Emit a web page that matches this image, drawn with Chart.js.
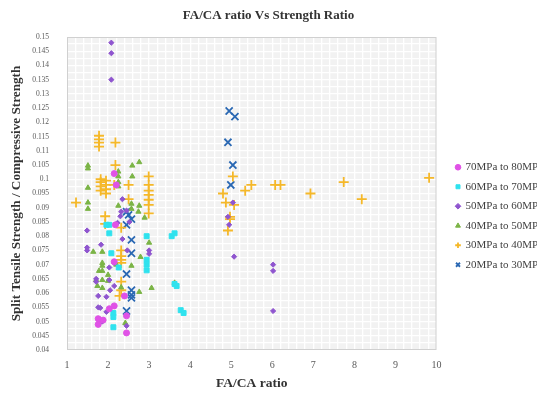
<!DOCTYPE html>
<html lang="en">
<head>
    <meta charset="UTF-8">
    <title>FA/CA ratio Vs Strength Ratio</title>
    <script src="https://cdn.jsdelivr.net/npm/chart.js"></script>
    <style>
        * { margin: 0; padding: 0; box-sizing: border-box; }
        body { background: #ffffff; width: 550px; height: 396px; overflow: hidden; }
        .chart-box { position: relative; width: 550px; height: 396px; }
    </style>
</head>
<body>
    <div class="chart-box">
        <canvas id="ratioChart"></canvas>
    </div>

    <script>
        // series labels
        const seriesNames = ['70MPa to 80MPa', '60MPa to 70MPa', '50MPa to 60MPa', '40MPa to 50MPa', '30MPa to 40MPa', '20MPa to 30MPa'];

        // 70 - 80 MPa
        const x70 = [1.76, 1.76, 1.88, 2.03, 2.15, 2.45, 2.45, 2.15, 2.18, 2.15, 2.2, 2.4];
        const y70 = [0.051, 0.049, 0.0505, 0.0545, 0.0555, 0.052, 0.046, 0.071, 0.084, 0.102, 0.098, 0.059];

        // 60 - 70 MPa
        const x60 = [2.03, 1.96, 2.03, 2.94, 3.55, 3.62, 2.08, 2.94, 2.94, 2.94, 2.26, 3.62, 3.67, 3.77, 3.84, 2.13, 2.13, 2.13];
        const y60 = [0.084, 0.084, 0.081, 0.080, 0.080, 0.081, 0.074, 0.0717, 0.070, 0.068, 0.069, 0.0632, 0.0625, 0.054, 0.053, 0.053, 0.0516, 0.048];

        // 50 - 60 MPa
        const x50 = [2.08, 2.08, 2.08, 5.04, 4.92, 4.95, 5.07, 6.02, 6.02, 6.02, 2.35, 2.32, 2.23, 2.52, 1.49, 2.35, 1.83, 1.49, 1.49, 2.47,
                     3.0, 3.0, 2.03, 2.15, 1.71, 1.71, 2.03, 2.15, 2.05, 1.76, 1.96, 1.76, 1.81, 1.96, 1.86, 2.45, 2.3, 2.45];
        const y50 = [0.148, 0.1443, 0.135, 0.0918, 0.0868, 0.084, 0.0728, 0.070, 0.0678, 0.0537, 0.093, 0.0886, 0.0847, 0.085, 0.082, 0.079, 0.077, 0.076, 0.075, 0.075,
                     0.075, 0.0738, 0.069, 0.0706, 0.065, 0.064, 0.0646, 0.0625, 0.061, 0.059, 0.0587, 0.055, 0.0548, 0.0534, 0.050, 0.0485, 0.087, 0.089];

        // 40 - 50 MPa
        const x40 = [1.51, 1.51, 2.59, 2.76, 2.25, 2.25, 2.25, 2.59, 1.51, 2.25, 1.51, 1.51, 2.57, 2.76, 2.25, 2.57, 2.74, 2.89, 3.0, 2.79,
                     1.64, 1.86, 1.86, 1.86, 2.57, 1.78, 1.86, 2.0, 1.71, 1.86, 2.0, 1.74, 1.86, 2.32, 2.76, 3.06, 3.62, 2.42, 2.2];
        const y40 = [0.1048, 0.1038, 0.1048, 0.106, 0.1027, 0.101, 0.099, 0.101, 0.097, 0.0975, 0.0918, 0.0896, 0.0914, 0.0907, 0.0907, 0.0896, 0.0886, 0.0865, 0.0777, 0.0727,
                     0.0745, 0.0745, 0.0706, 0.0696, 0.0696, 0.0678, 0.0678, 0.0664, 0.0646, 0.0646, 0.0643, 0.0625, 0.0618, 0.062, 0.0604, 0.0618, 0.0636, 0.0495, 0.070];

        // 30 - 40 MPa
        const x30 = [1.22, 1.78, 1.78, 1.78, 1.78, 2.18, 2.18, 1.82, 1.82, 1.82, 1.82, 1.95, 1.95, 1.95, 1.95, 2.15, 2.5, 2.99, 2.99, 2.99,
                     2.99, 2.99, 2.99, 2.99, 2.5, 1.93, 1.93, 2.32, 2.32, 2.32, 2.32, 2.32, 2.32, 2.32, 2.28, 5.04, 5.49, 6.07, 6.2, 7.74,
                     9.82, 4.8, 5.34, 6.93, 8.18, 4.87, 5.07, 4.97, 4.97, 4.92];
        const y30 = [0.0918, 0.1153, 0.114, 0.1129, 0.1115, 0.1129, 0.105, 0.100, 0.099, 0.0975, 0.096, 0.0995, 0.098, 0.0965, 0.095, 0.098, 0.098, 0.101, 0.098, 0.096,
                     0.0945, 0.0928, 0.091, 0.088, 0.093, 0.087, 0.0843, 0.083, 0.075, 0.073, 0.0717, 0.0706, 0.064, 0.061, 0.059, 0.101, 0.098, 0.098, 0.098, 0.099,
                     0.1005, 0.095, 0.096, 0.095, 0.093, 0.0918, 0.091, 0.0868, 0.086, 0.082];

        // 20 - 30 MPa
        const x20 = [4.95, 5.09, 4.92, 5.04, 4.99, 2.45, 2.57, 2.45, 2.57, 2.57, 2.45, 2.57, 2.57, 2.57, 2.45, 2.5];
        const y20 = [0.124, 0.122, 0.113, 0.105, 0.098, 0.0886, 0.086, 0.084, 0.0787, 0.074, 0.0667, 0.061, 0.0594, 0.0583, 0.0537, 0.0875];

        const xs = [x70, x60, x50, x40, x30, x20];
        const ys = [y70, y60, y50, y40, y30, y20];
        const colors = ['#e052e6', '#2fe2ee', '#8f55cf', '#7bb446', '#f5b829', '#2a68b3'];
        const shapes = ['circle', 'rect', 'rectRot', 'triangle', 'cross', 'crossRot'];
        const sizes = [3, 3.5, 2.6, 3, 5, 5];

        const serif = "'Liberation Serif', 'DejaVu Serif', serif";

        const datasets = seriesNames.map((name, i) => ({
            label: name,
            data: xs[i].map((x, j) => ({ x: x, y: ys[i][j] })),
            pointStyle: shapes[i],
            pointRadius: sizes[i],
            backgroundColor: colors[i],
            borderColor: colors[i],
            borderWidth: (i >= 4) ? 1.8 : 1
        }));

        // plot background and frame
        const plotBg = {
            id: 'plotBg',
            beforeDraw(chart) {
                const { ctx, chartArea: a } = chart;
                ctx.save();
                ctx.fillStyle = '#f2f2f2';
                ctx.fillRect(a.left, a.top, a.right - a.left, a.bottom - a.top);
                ctx.restore();
            },
            afterDatasetsDraw(chart) {
                const { ctx, chartArea: a } = chart;
                ctx.save();
                ctx.strokeStyle = '#d0d0d0';
                ctx.lineWidth = 1;
                ctx.strokeRect(a.left + 0.5, a.top + 0.5, a.right - a.left - 1, a.bottom - a.top - 1);
                ctx.restore();
            }
        };

        new Chart(document.getElementById('ratioChart'), {
            type: 'scatter',
            data: { datasets: datasets },
            options: {
                responsive: true,
                maintainAspectRatio: false,
                animation: false,
                layout: { padding: { left: 0, right: 13, top: 0, bottom: 0 } },
                plugins: {
                    title: {
                        display: true,
                        text: 'FA/CA ratio Vs Strength Ratio',
                        color: '#333333',
                        font: { family: serif, size: 13, weight: 'bold' },
                        padding: { top: 8, bottom: 13.4 }
                    },
                    legend: {
                        position: 'right',
                        title: {
                            display: true,
                            text: ' ',
                            font: { size: 10 },
                            padding: { top: 24, bottom: 0 }
                        },
                        labels: {
                            usePointStyle: true,
                            boxWidth: 4,
                            boxHeight: 4,
                            padding: 8.5,
                            color: '#404040',
                            font: { family: serif, size: 11 }
                        }
                    },
                    tooltip: { enabled: false }
                },
                scales: {
                    x: {
                        type: 'linear',
                        min: 1,
                        max: 10,
                        afterFit(s) { s.height = 46; },
                        grid: { color: '#ffffff', lineWidth: 1.3, drawTicks: false },
                        border: { display: false },
                        ticks: {
                            stepSize: 0.2,
                            autoSkip: false,
                            maxRotation: 0,
                            padding: 9,
                            color: '#595959',
                            font: { family: serif, size: 10 },
                            callback: v => Math.abs(v - Math.round(v)) < 1e-6 ? String(Math.round(v)) : ''
                        },
                        title: {
                            display: true,
                            text: 'FA/CA ratio',
                            color: '#333333',
                            font: { family: serif, size: 13.5, weight: 'bold' },
                            padding: { top: 0, bottom: 4 }
                        }
                    },
                    y: {
                        type: 'linear',
                        min: 0.04,
                        max: 0.15,
                        afterFit(s) { s.width = 67; },
                        grid: { color: '#ffffff', lineWidth: 1.3, drawTicks: false },
                        border: { display: false },
                        ticks: {
                            stepSize: 0.0025,
                            autoSkip: false,
                            padding: 18,
                            color: '#595959',
                            font: { family: serif, size: 7.5 },
                            callback: v => Math.abs(v * 200 - Math.round(v * 200)) < 1e-6 ? String(Math.round(v * 1000) / 1000) : ''
                        },
                        title: {
                            display: true,
                            text: 'Split Tensile Strength / Compressive Strength',
                            color: '#333333',
                            font: { family: serif, size: 13.2, weight: 'bold' },
                            padding: { top: 9, bottom: 0 }
                        }
                    },
                    gap: {
                        type: 'linear',
                        position: 'right',
                        min: 0,
                        max: 1,
                        afterFit(s) { s.width = 11; },
                        grid: { display: false },
                        border: { display: false },
                        ticks: { display: false }
                    }
                }
            },
            plugins: [plotBg]
        });
    </script>
</body>
</html>
